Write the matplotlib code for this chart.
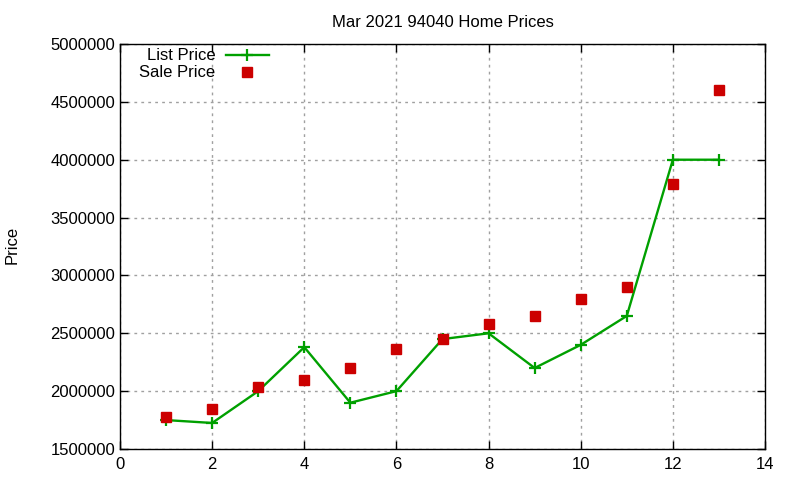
import matplotlib
matplotlib.use("Agg")
import matplotlib.pyplot as plt

plt.rcParams['font.family'] = ['Liberation Sans', 'DejaVu Sans']

# data
x = [1, 2, 3, 4, 5, 6, 7, 8, 9, 10, 11, 12, 13]
list_price = [1750000, 1725000, 2000000, 2380000, 1900000, 2000000, 2450000,
              2500000, 2200000, 2400000, 2650000, 4000000, 4000000]
sale_price = [1780000, 1850000, 2035000, 2100000, 2200000, 2360000, 2450000,
              2580000, 2650000, 2800000, 2900000, 3790000, 4600000]

fig = plt.figure(figsize=(8, 4.8), dpi=100)
ax = fig.add_axes([120/800, 1 - 449/480, 645/800, 405/480])

ax.plot(x, list_price, color="#00a000", lw=1.7, marker="+", ms=8, mew=1.6,
        label="List Price", zorder=3)
ax.plot(x, sale_price, ls="none", color="#cc0000", marker="s", ms=6.5,
        label="Sale Price", zorder=4)

ax.set_xlim(0, 14)
ax.set_ylim(1500000, 5000000)
ax.set_xticks(range(0, 15, 2))
ax.set_yticks(range(1500000, 5000001, 500000))
ax.set_yticklabels([str(v) for v in range(1500000, 5000001, 500000)])
ax.grid(True, color="#a0a0a0", ls=(0, (2, 3)), lw=1)
ax.tick_params(direction="in", top=True, right=True, labelsize=12, length=6, width=1)
ax.tick_params(axis="x", pad=6)
for s in ax.spines.values():
    s.set_linewidth(1.0)

ax.set_title("Mar 2021 94040 Home Prices", fontsize=12, pad=12)
fig.text(12/800, 1 - 245/480, "Price", rotation=90, fontsize=12,
         ha="center", va="center")

leg = ax.legend(loc="upper left", bbox_to_anchor=(0.012, 1.018), frameon=False,
                markerfirst=False, fontsize=12, handlelength=2.6,
                handletextpad=0.6, borderaxespad=0.3, labelspacing=0.12)
for t in leg.get_texts():
    t.set_ha("right")
    t.set_position((0, 0))

fig.savefig("out.png", dpi=100)
